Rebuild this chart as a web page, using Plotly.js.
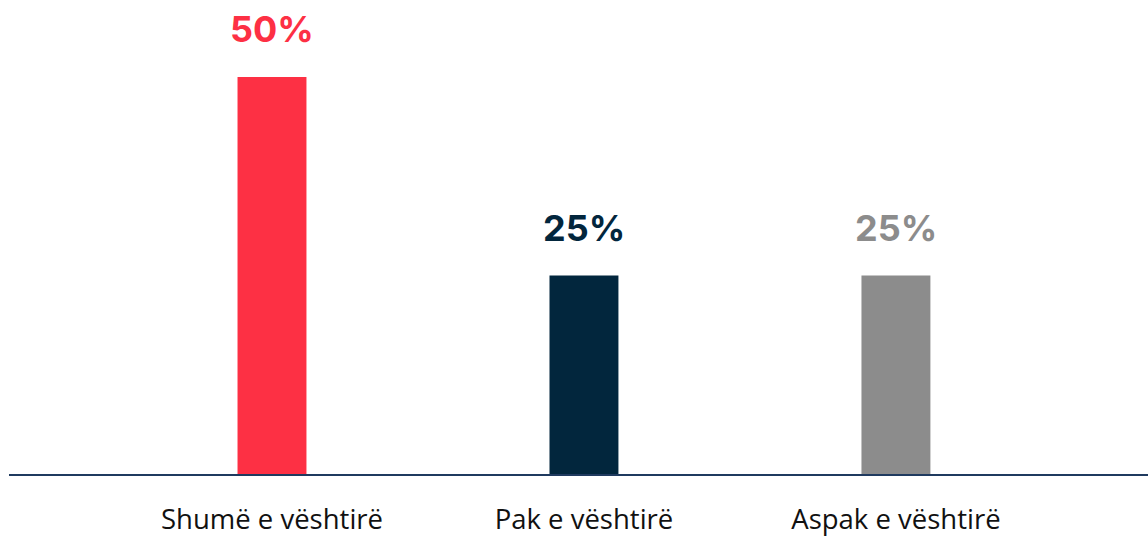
<!DOCTYPE html>
<html><head><meta charset="utf-8">
<script src="https://cdn.plot.ly/plotly-3.0.1.min.js"></script>
<style>html,body{margin:0;padding:0;background:#fff}#c{width:1148px;height:536px}</style>
</head><body><div id="c"></div>
<script>
var categories = ["Shumë e vështirë", "Pak e vështirë", "Aspak e vështirë"];
var values = [50, 25, 25];
var labels = ["50%", "25%", "25%"];
var colors = ["#fd3044", "#02263d", "#8c8c8c"];

var trace = {
  type: "bar", x: [0,1,2], y: values,
  marker: {color: colors}, hoverinfo: "none"
};
var annotations = values.map(function(v, i){
  return {x: i, y: v, xref: "x", yref: "y", text: "<b>" + labels[i] + "</b>",
    showarrow: false, yanchor: "bottom", yshift: 24,
    font: {family: "Inter, Roboto, sans-serif", size: 36, color: colors[i]}};
});
var layout = {
  width: 1148, height: 536,
  margin: {l: 9, r: 0, t: 0, b: 62},
  paper_bgcolor: "#fff", plot_bgcolor: "#fff",
  bargap: 0.779, showlegend: false,
  xaxis: {range: [-0.843, 2.808], tickvals: [0,1,2], ticktext: categories,
    showgrid: false, zeroline: false, showline: true, linecolor: "#1f3a5f", linewidth: 2,
    ticks: "", ticklabelstandoff: 20,
    tickfont: {family: "'Open Sans', sans-serif", size: 27.5, color: "#111"}},
  yaxis: {range: [0, 59.7], visible: false, showgrid: false, zeroline: false},
  annotations: annotations
};
Plotly.newPlot("c", [trace], layout, {staticPlot: true, displayModeBar: false});
</script></body></html>
